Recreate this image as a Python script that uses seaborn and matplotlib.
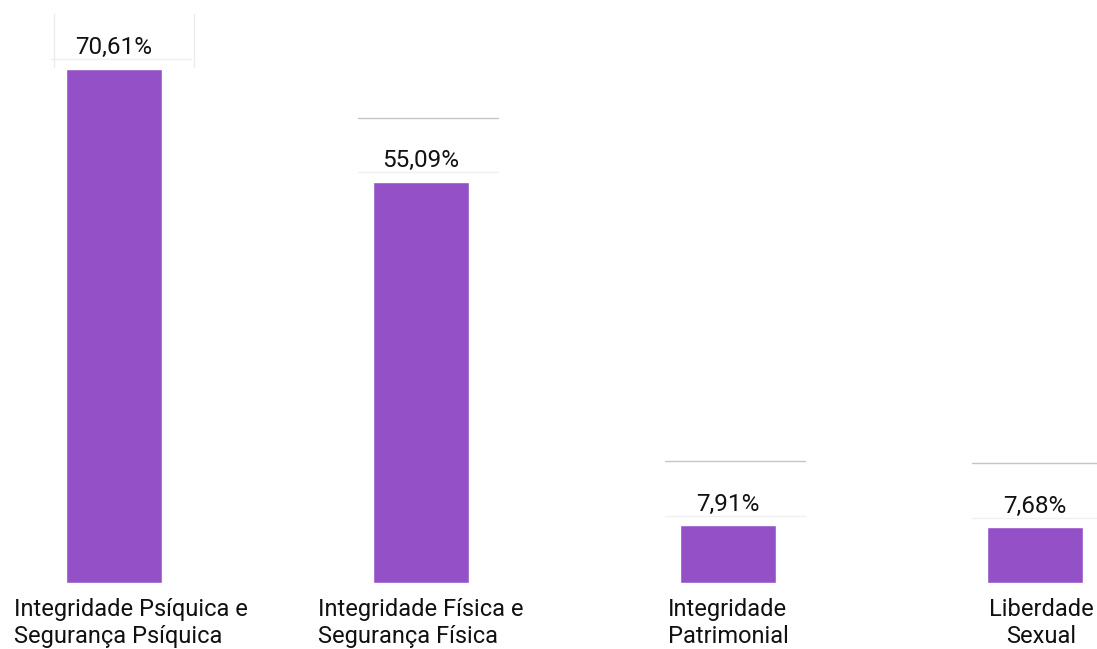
import pandas as pd
import seaborn as sns
import matplotlib.pyplot as plt

categories = [
    'Integridade Psíquica e\nSegurança Psíquica',
    'Integridade Física e\nSegurança Física',
    'Integridade\nPatrimonial',
    'Liberdade\nSexual',
]
values = [70.61, 55.09, 7.91, 7.68]
value_labels = ['70,61%', '55,09%', '7,91%', '7,68%']

df = pd.DataFrame({'categoria': categories, 'pct': values})

sns.set_theme(style='white')
plt.rcParams['font.family'] = ['Roboto', 'DejaVu Sans']

fig = plt.figure(figsize=(10.97, 6.49), dpi=100)
ax = fig.add_axes([0, 0, 1, 1])

sns.barplot(data=df, x='categoria', y='pct', color='#9451c7',
            width=0.313, saturation=1, ax=ax)

ax.set_xlim(-0.371, 3.202)
ax.set_ylim(-9.07, 80.08)
ax.axis('off')

# tooltip-like faint boxes left over in the screenshot
for i, v in enumerate(values):
    if i > 0:
        ax.plot([i - 0.205, i + 0.25], [v + 8.8, v + 8.8], color='#c6c6c6', lw=1)
    ax.plot([i - 0.205, i + 0.25], [v + 1.3, v + 1.3], color='#f0f0f0', lw=1)
ax.plot([-0.195, -0.195], [values[0] + 0.2, 78.2], color='#ececec', lw=1)
ax.plot([0.26, 0.26], [values[0] + 0.2, 78.2], color='#ececec', lw=1)

for i, (v, lab) in enumerate(zip(values, value_labels)):
    ax.text(i, v + 2.0, lab, ha='center', va='baseline', fontsize=17.5,
            color='#111111')

# category labels under the bars
offsets = [0.054, 0.0, 0.0, 0.02]
aligns = ['left', 'left', 'left', 'center']
for i, (cat, off, al) in enumerate(zip(categories, offsets, aligns)):
    ax.text(i + off, -2.1, cat, ha='center', va='top', fontsize=17,
            multialignment=al, color='#111111', linespacing=1.2)

fig.savefig('out.png', dpi=100)
